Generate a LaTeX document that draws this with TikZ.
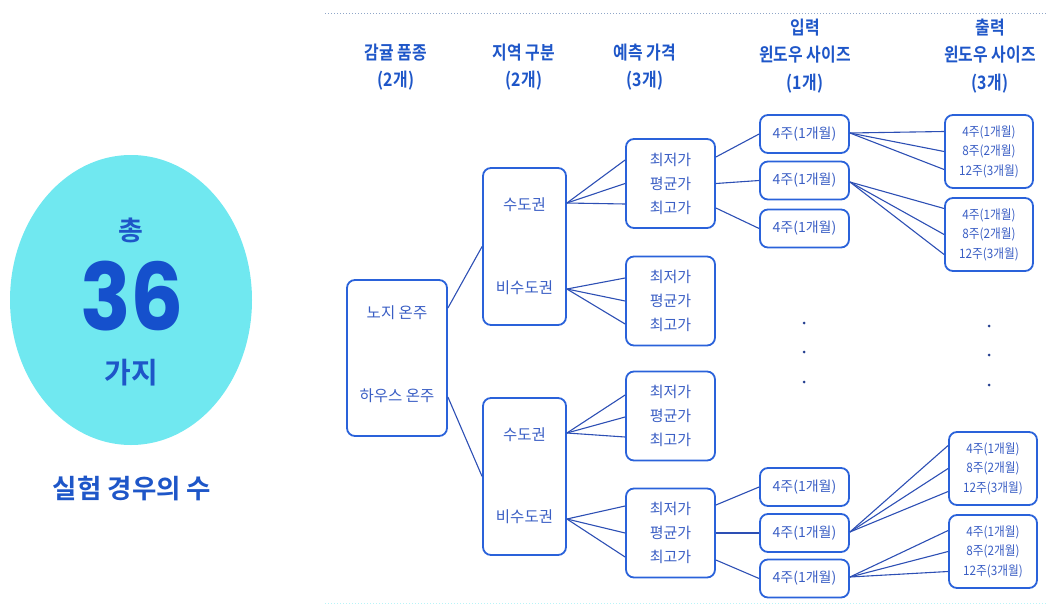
\documentclass[tikz,border=0pt]{standalone}
\usepackage{fontspec}
\newfontfamily\kr{Noto Sans CJK KR}
\newfontfamily\krs{Noto Sans CJK KR}[FakeStretch=0.9]
\newfontfamily\krb{Noto Sans CJK KR Bold}
\newfontfamily\krbc{Noto Sans CJK KR Bold}[FakeStretch=0.86]
\newfontfamily\pop{Poppins}[UprightFont=* Bold, FakeStretch=0.9]
\usetikzlibrary{calc,shapes.geometric}
\definecolor{hdr}{HTML}{1E56C8}
\definecolor{boxc}{HTML}{2A62DA}
\definecolor{txtc}{HTML}{3A5EC4}
\definecolor{linec}{HTML}{2D4FB4}
\definecolor{cyanf}{HTML}{70E8F0}
\definecolor{bigc}{HTML}{1550CC}
\definecolor{dotc}{HTML}{8FA6C8}
\tikzset{
  box/.style={draw=boxc, line width=1.8pt, rounded corners=8pt, inner sep=0pt},
  txt/.style={text=txtc, font=\kr\fontsize{15.5}{24}\selectfont, align=center, inner sep=0pt},
  smalltxt/.style={text=txtc, font=\krs\fontsize{13}{19.5}\selectfont, align=center, inner sep=0pt},
  head/.style={text=hdr, font=\krbc\fontsize{18.5}{27.5}\selectfont, align=center, inner sep=0pt},
  conn/.style={draw=linec, line width=1.1pt},
  dotmark/.style={fill=linec!80!black, circle, inner sep=0pt, minimum size=3pt},
}
\begin{document}
\begin{tikzpicture}[x=1pt,y=-1pt]
\useasboundingbox (0,0) rectangle (1047,605);
% dotted rules
\draw[dotc, dotted, line width=1pt] (325,13) -- (1047,13);
\draw[cyanf!50, dotted, line width=1pt] (325,603) -- (1047,603);
% left ellipse
\node[ellipse, fill=cyanf, minimum width=242pt, minimum height=290pt, inner sep=0pt] (ell) at (131,300) {};
\node[text=hdr, font=\krb\fontsize{27}{27}\selectfont, inner sep=0pt] (chong) at (131,230) {총};
\node[text=bigc, font=\pop\fontsize{93}{93}\selectfont, inner sep=0pt, text height=68pt, text depth=0pt, anchor=base] (num) at (132,330) {36};
\node[text=hdr, font=\krb\fontsize{29}{29}\selectfont, inner sep=0pt, text height=26pt, text depth=2pt, anchor=base] (gaji) at (131,383) {가지};
\node[text=hdr, font=\krb\fontsize{26.5}{26.5}\selectfont, inner sep=0pt] (cases) at (132,488) {실험 경우의 수};
% headers
\node[head] (h1) at (396,67) {감귤 품종\\(2개)};
\node[head] (h2) at (524,67) {지역 구분\\(2개)};
\node[head] (h3) at (645,67) {예측 가격\\(3개)};
\node[head] (h4) at (805,56) {입력\\윈도우 사이즈\\(1개)};
\node[head] (h5) at (990,56) {출력\\윈도우 사이즈\\(3개)};
% root box
\node[box, minimum width=100pt, minimum height=156pt] (A) at (397,358) {};
\node[txt] (a1) at (397,313) {노지 온주};
\node[txt] (a2) at (397,396) {하우스 온주};
% region boxes
\node[box, minimum width=83pt, minimum height=157pt] (R1) at (524.5,246.5) {};
\node[txt] (r1a) at (524.5,205) {수도권};
\node[txt] (r1b) at (524.5,288) {비수도권};
\node[box, minimum width=83pt, minimum height=157pt] (R2) at (524.5,476.5) {};
\node[txt] (r2a) at (524.5,435) {수도권};
\node[txt] (r2b) at (524.5,517) {비수도권};
% price boxes
\tikzset{pbox/.style={box, txt, font=\kr\fontsize{15}{24}\selectfont, minimum width=89pt, minimum height=89pt}}
\node[pbox] (P1) at (670.5,183.5) {최저가\\평균가\\최고가};
\node[pbox] (P2) at (670.5,301) {최저가\\평균가\\최고가};
\node[pbox] (P3) at (670.5,416) {최저가\\평균가\\최고가};
\node[pbox] (P4) at (670.5,533) {최저가\\평균가\\최고가};
% input boxes
\tikzset{inbox/.style={box, txt, font=\kr\fontsize{14}{14}\selectfont, minimum width=89pt, minimum height=38pt}}
\node[inbox] (I1) at (804.5,134) {4주(1개월)};
\node[inbox] (I2) at (804.5,180.5) {4주(1개월)};
\node[inbox] (I3) at (804.5,228.5) {4주(1개월)};
\node[inbox] (I4) at (804.5,487) {4주(1개월)};
\node[inbox] (I5) at (804.5,533) {4주(1개월)};
\node[inbox] (I6) at (804.5,578.5) {4주(1개월)};
% output boxes
\tikzset{outbox/.style={box, smalltxt, minimum width=88pt, minimum height=73pt}}
\node[outbox] (O1) at (989,151.5) {4주(1개월)\\8주(2개월)\\12주(3개월)};
\node[outbox] (O2) at (989,234.5) {4주(1개월)\\8주(2개월)\\12주(3개월)};
\node[outbox] (O3) at (993,468.5) {4주(1개월)\\8주(2개월)\\12주(3개월)};
\node[outbox] (O4) at (993,551.5) {4주(1개월)\\8주(2개월)\\12주(3개월)};
% dots
\foreach \i/\y in {1/323,2/352,3/382} {
  \node[dotmark] (dl\i) at (804,\y) {};
  \node[dotmark] (dr\i) at (989,\y+3) {};
}
% connectors root -> regions
\draw[conn] ($(A.east)+(0,-50)$) -- (R1.west);
\draw[conn] ($(A.east)+(0,39)$) -- (R2.west);
% regions -> prices
\foreach \d in {-23.5,0,20.5} \draw[conn] ($(R1.east)+(0,-43.5)$) -- ($(P1.west)+(0,\d)$);
\foreach \d in {-23,0,23} \draw[conn] ($(R1.east)+(0,42.5)$) -- ($(P2.west)+(0,\d)$);
\foreach \d in {-21,1,21} \draw[conn] ($(R2.east)+(0,-43.5)$) -- ($(P3.west)+(0,\d)$);
\foreach \d in {-27,0,24} \draw[conn] ($(R2.east)+(0,42.5)$) -- ($(P4.west)+(0,\d)$);
% prices -> inputs
\draw[conn] ($(P1.east)+(0,-26.5)$) -- (I1.west);
\draw[conn] ($(P1.east)+(0,0)$) -- (I2.west);
\draw[conn] ($(P1.east)+(0,24.5)$) -- (I3.west);
\draw[conn] ($(P4.east)+(0,-28)$) -- (I4.west);
\draw[conn] ($(P4.east)+(0,0)$) -- (I5.west);
\draw[conn] ($(P4.east)+(0,27)$) -- (I6.west);
% inputs -> outputs
\foreach \d in {-20,0,18} \draw[conn] ($(I1.east)+(0,-1)$) -- ($(O1.west)+(0,\d)$);
\foreach \d in {-26,0,20} \draw[conn] ($(I2.east)+(0,1.5)$) -- ($(O2.west)+(0,\d)$);
\foreach \d in {-23,0,23} \draw[conn] ($(I5.east)+(0,-1)$) -- ($(O3.west)+(0,\d)$);
\foreach \d in {-21,0,20} \draw[conn] ($(I6.east)+(0,-1.5)$) -- ($(O4.west)+(0,\d)$);
\end{tikzpicture}
\end{document}
